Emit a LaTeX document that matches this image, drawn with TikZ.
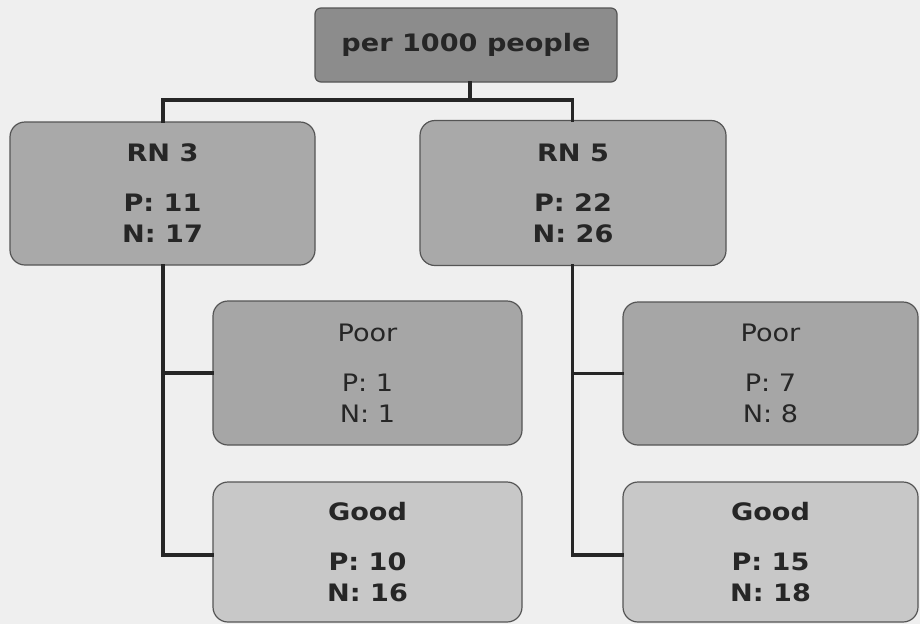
\documentclass[tikz,border=0pt]{standalone}
\usepackage{fontspec}
\setmainfont{DejaVu Sans}[FakeStretch=1.13]
\usetikzlibrary{calc}
\definecolor{paper}{HTML}{EFEFEF}
\definecolor{rootfill}{HTML}{8C8C8C}
\definecolor{midfill}{HTML}{A9A9A9}
\definecolor{poorfill}{HTML}{A6A6A6}
\definecolor{goodfill}{HTML}{C8C8C8}
\definecolor{edgegray}{HTML}{555555}
\definecolor{ink}{HTML}{262626}
\begin{document}
\begin{tikzpicture}[x=1pt,y=-1pt,
  box/.style={draw=edgegray, line width=1.2pt, rounded corners=15pt, align=center,
    text=ink, inner sep=0pt, font=\fontsize{24}{31}\selectfont},
  rootbox/.style={box, fill=rootfill, rounded corners=6pt, font=\bfseries\fontsize{24}{31}\selectfont},
  rnbox/.style={box, fill=midfill, font=\bfseries\fontsize{24}{31}\selectfont},
  poorbox/.style={box, fill=poorfill},
  goodbox/.style={box, fill=goodfill, font=\bfseries\fontsize{24}{31}\selectfont},
  link/.style={draw=ink, line width=3.5pt, line cap=rect}
]
\fill[paper] (0,0) rectangle (920,624);
\useasboundingbox (0,0) rectangle (920,624);

% root
\node[rootbox, minimum width=302pt, minimum height=74pt] (root) at (466,45) {per 1000 people};

% second level
\node[rnbox, minimum width=305pt, minimum height=143pt] (rn3) at (162.5,193.5)
  {RN 3\\[19pt]P: 11\\N: 17};
\node[rnbox, minimum width=306pt, minimum height=145pt] (rn5) at (573,193)
  {RN 5\\[19pt]P: 22\\N: 26};

% third level
\node[poorbox, minimum width=309pt, minimum height=144pt] (poorL) at (367.5,373)
  {Poor\\[19pt]P: 1\\N: 1};
\node[goodbox, minimum width=309pt, minimum height=140pt] (goodL) at (367.5,552)
  {Good\\[19pt]P: 10\\N: 16};
\node[poorbox, minimum width=295pt, minimum height=143pt] (poorR) at (770.5,373.5)
  {Poor\\[19pt]P: 7\\N: 8};
\node[goodbox, minimum width=295pt, minimum height=140pt] (goodR) at (770.5,552)
  {Good\\[19pt]P: 15\\N: 18};

% connectors
\coordinate (split) at (470,100);
\coordinate (leftbar) at (163,100);
\coordinate (rightbar) at (572.5,100);
\draw[link] (root.south -| split) -- (split);
\draw[link] (leftbar) -- (rightbar);
\draw[link] (leftbar) -- (leftbar |- rn3.north);
\draw[link] (rightbar) -- (rightbar |- rn5.north);
\draw[link] (leftbar |- rn3.south) |- (goodL.west |- 0,555);
\draw[link] (leftbar |- poorL.west) -- (poorL.west);
\draw[link] (rightbar |- rn5.south) |- (goodR.west |- 0,555);
\draw[link] (rightbar |- poorR.west) -- (poorR.west);
\end{tikzpicture}
\end{document}
